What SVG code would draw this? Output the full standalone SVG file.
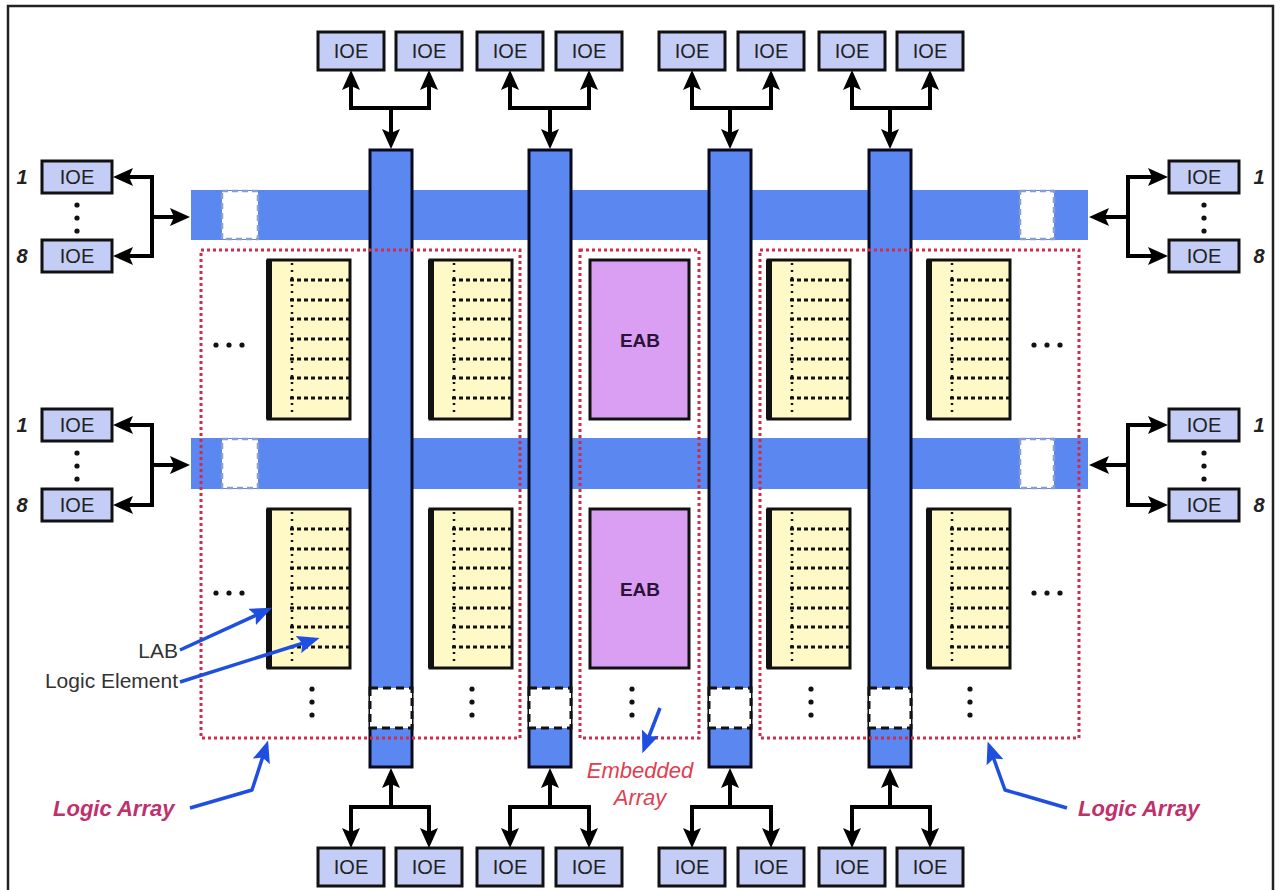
<svg xmlns="http://www.w3.org/2000/svg" width="1281" height="890" viewBox="0 0 1281 890">
<style>
.ioe rect{fill:#C3CDF6;stroke:#111;stroke-width:3}
.ioe text{font-family:"Liberation Sans",Arial,sans-serif;font-size:20px;fill:#222;text-anchor:middle}
.num{font-family:"Liberation Sans",Arial,sans-serif;font-size:20px;font-style:italic;font-weight:bold;fill:#222;text-anchor:middle}
.conn{stroke:#000;stroke-width:4;fill:none;stroke-linejoin:round}
.arr{stroke:#000;stroke-width:4;fill:none;marker-end:url(#ah)}
.bus{fill:#5B87F1}
.gap{fill:#fff;stroke:#8C9CCC;stroke-width:2.5;stroke-dasharray:6 4}
.vbar{fill:#5B87F1;stroke:#0A0A1E;stroke-width:3}
.vgap{fill:#fff;stroke:#111;stroke-width:3;stroke-dasharray:8 5}
.region{fill:none;stroke:#D42A4A;stroke-width:3;stroke-dasharray:3 3}
.labbox{fill:#FFF9C8;stroke:#111;stroke-width:3}
.labedge{stroke:#111;stroke-width:6}
.labvd{stroke:#111;stroke-width:2.5;stroke-dasharray:2 5}
.le{stroke:#111;stroke-width:3;stroke-dasharray:4 3}
.eab rect{fill:#DA9FF2;stroke:#111;stroke-width:3}
.eab text{font-family:"Liberation Sans",Arial,sans-serif;font-size:19px;font-weight:bold;fill:#2A1238;text-anchor:middle}
.dot{fill:#111}
.callout{stroke:#1E4FE0;stroke-width:3.5;fill:none;stroke-linejoin:round;marker-end:url(#bh)}
.lbl{font-family:"Liberation Sans",Arial,sans-serif;font-size:21px;fill:#333;text-anchor:end}
.la{font-family:"Liberation Sans",Arial,sans-serif;font-size:22px;font-weight:bold;font-style:italic;fill:#C0306C}
.ea{font-family:"Liberation Sans",Arial,sans-serif;font-size:22px;font-style:italic;fill:#E0404F;text-anchor:middle}
</style>
<defs>
<marker id="ah" viewBox="0 0 20 18" refX="10" refY="9" markerWidth="20" markerHeight="18" markerUnits="userSpaceOnUse" orient="auto">
<path d="M0,0 L20,9 L0,18 L4,9 z" fill="#000"/>
</marker>
<marker id="bh" viewBox="0 0 22 18" refX="12" refY="9" markerWidth="22" markerHeight="18" markerUnits="userSpaceOnUse" orient="auto">
<path d="M0,0 L22,9 L0,18 L4,9 z" fill="#1E4FE0"/>
</marker>
<g id="labcore">
<rect class="labbox" x="0" y="0" width="82" height="159"/>
<line class="labedge" x1="1" y1="0" x2="1" y2="159"/>
<line class="labvd" x1="24" y1="3" x2="24" y2="157"/>
<line class="le" x1="22" y1="20" x2="82" y2="20"/>
<line class="le" x1="22" y1="40" x2="82" y2="40"/>
<line class="le" x1="22" y1="59" x2="82" y2="59"/>
<line class="le" x1="22" y1="79" x2="82" y2="79"/>
<line class="le" x1="22" y1="99" x2="82" y2="99"/>
<line class="le" x1="22" y1="118" x2="82" y2="118"/>
<line class="le" x1="22" y1="138" x2="82" y2="138"/>
</g>
<g id="vdots" fill="#111"><circle cx="0" cy="0" r="2.6"/><circle cx="0" cy="13" r="2.6"/><circle cx="0" cy="26" r="2.6"/></g>
<g id="hdots" fill="#111"><circle cx="0" cy="0" r="2.6"/><circle cx="13" cy="0" r="2.6"/><circle cx="26" cy="0" r="2.6"/></g>
</defs>
<rect x="0" y="0" width="1281" height="890" fill="#fff"/>
<path d="M8,890 V6 H1273 V890" fill="none" stroke="#222" stroke-width="2.5"/>

<!-- horizontal buses -->
<g id="hbus1">
<rect class="bus" x="191" y="190" width="897" height="50"/>
<rect class="gap" x="222" y="191" width="36" height="48"/>
<rect class="gap" x="1020" y="191" width="34" height="48"/>
</g>
<g id="hbus2">
<rect class="bus" x="191" y="438" width="897" height="51"/>
<rect class="gap" x="222" y="439" width="36" height="49"/>
<rect class="gap" x="1020" y="439" width="34" height="49"/>
</g>

<!-- LABs -->
<g id="lab1"><use href="#labcore" x="268" y="260"/></g>
<g id="lab2"><use href="#labcore" x="430" y="260"/></g>
<g id="lab3"><use href="#labcore" x="768" y="260"/></g>
<g id="lab4"><use href="#labcore" x="928" y="260"/></g>
<g id="lab5"><use href="#labcore" x="268" y="509"/></g>
<g id="lab6"><use href="#labcore" x="430" y="509"/></g>
<g id="lab7"><use href="#labcore" x="768" y="509"/></g>
<g id="lab8"><use href="#labcore" x="928" y="509"/></g>

<g id="eab1" class="eab"><rect x="590" y="260" width="99" height="159"/><text x="640" y="347">EAB</text></g>
<g id="eab2" class="eab"><rect x="590" y="509" width="99" height="159"/><text x="640" y="596">EAB</text></g>

<!-- dots -->
<g id="dots">
<use href="#hdots" x="216" y="345"/>
<use href="#hdots" x="216" y="593"/>
<use href="#hdots" x="1034" y="345"/>
<use href="#hdots" x="1034" y="593"/>
<use href="#vdots" x="312" y="689"/>
<use href="#vdots" x="472" y="689"/>
<use href="#vdots" x="632" y="689"/>
<use href="#vdots" x="811" y="689"/>
<use href="#vdots" x="970" y="689"/>
<use href="#vdots" x="77" y="205"/>
<use href="#vdots" x="77" y="453"/>
<use href="#vdots" x="1204" y="205"/>
<use href="#vdots" x="1204" y="453"/>
</g>

<!-- vertical bars -->
<g id="vbar1"><rect class="vbar" x="370" y="150" width="42" height="617"/><rect class="vgap" x="370" y="688" width="42" height="40"/></g>
<g id="vbar2"><rect class="vbar" x="529" y="150" width="42" height="617"/><rect class="vgap" x="529" y="688" width="42" height="40"/></g>
<g id="vbar3"><rect class="vbar" x="709" y="150" width="42" height="617"/><rect class="vgap" x="709" y="688" width="42" height="40"/></g>
<g id="vbar4"><rect class="vbar" x="869" y="150" width="42" height="617"/><rect class="vgap" x="869" y="688" width="42" height="40"/></g>

<!-- regions -->
<rect id="logic-array-left" class="region" x="201" y="250" width="319" height="488"/>
<rect id="embedded-array" class="region" x="580" y="250" width="119" height="488"/>
<rect id="logic-array-right" class="region" x="760" y="250" width="319" height="488"/>

<!-- IOEs top -->
<g id="ioe-t1" class="ioe"><rect x="318" y="32" width="66" height="38"/><text x="351" y="58">IOE</text></g>
<g id="ioe-t2" class="ioe"><rect x="396" y="32" width="66" height="38"/><text x="429" y="58">IOE</text></g>
<g id="ioe-t3" class="ioe"><rect x="477" y="32" width="66" height="38"/><text x="510" y="58">IOE</text></g>
<g id="ioe-t4" class="ioe"><rect x="556" y="32" width="66" height="38"/><text x="589" y="58">IOE</text></g>
<g id="ioe-t5" class="ioe"><rect x="659" y="32" width="66" height="38"/><text x="692" y="58">IOE</text></g>
<g id="ioe-t6" class="ioe"><rect x="738" y="32" width="66" height="38"/><text x="771" y="58">IOE</text></g>
<g id="ioe-t7" class="ioe"><rect x="819" y="32" width="66" height="38"/><text x="852" y="58">IOE</text></g>
<g id="ioe-t8" class="ioe"><rect x="897" y="32" width="66" height="38"/><text x="930" y="58">IOE</text></g>
<!-- IOEs bottom -->
<g id="ioe-b1" class="ioe"><rect x="318" y="848" width="66" height="38"/><text x="351" y="874">IOE</text></g>
<g id="ioe-b2" class="ioe"><rect x="396" y="848" width="66" height="38"/><text x="429" y="874">IOE</text></g>
<g id="ioe-b3" class="ioe"><rect x="477" y="848" width="66" height="38"/><text x="510" y="874">IOE</text></g>
<g id="ioe-b4" class="ioe"><rect x="556" y="848" width="66" height="38"/><text x="589" y="874">IOE</text></g>
<g id="ioe-b5" class="ioe"><rect x="659" y="848" width="66" height="38"/><text x="692" y="874">IOE</text></g>
<g id="ioe-b6" class="ioe"><rect x="738" y="848" width="66" height="38"/><text x="771" y="874">IOE</text></g>
<g id="ioe-b7" class="ioe"><rect x="819" y="848" width="66" height="38"/><text x="852" y="874">IOE</text></g>
<g id="ioe-b8" class="ioe"><rect x="897" y="848" width="66" height="38"/><text x="930" y="874">IOE</text></g>
<!-- IOEs left -->
<g id="ioe-l1" class="ioe"><rect x="42" y="161" width="70" height="32"/><text x="77" y="184">IOE</text></g>
<g id="ioe-l2" class="ioe"><rect x="42" y="240" width="70" height="32"/><text x="77" y="263">IOE</text></g>
<g id="ioe-l3" class="ioe"><rect x="42" y="409" width="70" height="32"/><text x="77" y="432">IOE</text></g>
<g id="ioe-l4" class="ioe"><rect x="42" y="489" width="70" height="32"/><text x="77" y="512">IOE</text></g>
<!-- IOEs right -->
<g id="ioe-r1" class="ioe"><rect x="1169" y="161" width="70" height="32"/><text x="1204" y="184">IOE</text></g>
<g id="ioe-r2" class="ioe"><rect x="1169" y="240" width="70" height="32"/><text x="1204" y="263">IOE</text></g>
<g id="ioe-r3" class="ioe"><rect x="1169" y="409" width="70" height="32"/><text x="1204" y="432">IOE</text></g>
<g id="ioe-r4" class="ioe"><rect x="1169" y="489" width="70" height="32"/><text x="1204" y="512">IOE</text></g>

<g id="ioe-numbers">
<text class="num" x="22" y="184">1</text>
<text class="num" x="22" y="263">8</text>
<text class="num" x="22" y="432">1</text>
<text class="num" x="22" y="512">8</text>
<text class="num" x="1259" y="184">1</text>
<text class="num" x="1259" y="263">8</text>
<text class="num" x="1259" y="432">1</text>
<text class="num" x="1259" y="512">8</text>
</g>

<!-- connectors -->
<g id="connectors">
<path class="conn" d="M351,108 H429 M510,108 H589 M692,108 H771 M852,108 H930"/>
<path class="arr" d="M351,110 V80"/><path class="arr" d="M429,110 V80"/>
<path class="arr" d="M510,110 V80"/><path class="arr" d="M589,110 V80"/>
<path class="arr" d="M692,110 V80"/><path class="arr" d="M771,110 V80"/>
<path class="arr" d="M852,110 V80"/><path class="arr" d="M930,110 V80"/>
<path class="arr" d="M391,106 V139"/><path class="arr" d="M550,106 V139"/>
<path class="arr" d="M730,106 V139"/><path class="arr" d="M890,106 V139"/>
<path class="conn" d="M351,807 H429 M510,807 H589 M692,807 H771 M852,807 H930"/>
<path class="arr" d="M351,805 V838"/><path class="arr" d="M429,805 V838"/>
<path class="arr" d="M510,805 V838"/><path class="arr" d="M589,805 V838"/>
<path class="arr" d="M692,805 V838"/><path class="arr" d="M771,805 V838"/>
<path class="arr" d="M852,805 V838"/><path class="arr" d="M930,805 V838"/>
<path class="arr" d="M391,809 V778"/><path class="arr" d="M550,809 V778"/>
<path class="arr" d="M730,809 V778"/><path class="arr" d="M890,809 V778"/>
<path class="conn" d="M152,177 V256"/>
<path class="arr" d="M154,177 H123"/><path class="arr" d="M154,256 H123"/>
<path class="arr" d="M150,217 H180"/>
<path class="conn" d="M152,425 V505"/>
<path class="arr" d="M154,425 H123"/><path class="arr" d="M154,505 H123"/>
<path class="arr" d="M150,465 H180"/>
<path class="conn" d="M1128,177 V256"/>
<path class="arr" d="M1126,177 H1158"/><path class="arr" d="M1126,256 H1158"/>
<path class="arr" d="M1130,217 H1099"/>
<path class="conn" d="M1128,425 V505"/>
<path class="arr" d="M1126,425 H1158"/><path class="arr" d="M1126,505 H1158"/>
<path class="arr" d="M1130,465 H1099"/>
<path class="callout" d="M180,650 L263,612"/>
<path class="callout" d="M180,682 L310,641"/>
<path class="callout" d="M190,808 L252,790 L265,750"/>
<path class="callout" d="M1067,808 L1005,790 L991,751"/>
<path class="callout" d="M660,708 L646,744"/>
</g>

<!-- labels -->
<g id="labels">
<text class="lbl" x="178" y="658">LAB</text>
<text class="lbl" x="178" y="688">Logic Element</text>
<text class="la" x="53" y="816">Logic Array</text>
<text class="la" x="1078" y="816">Logic Array</text>
<text class="ea" x="640" y="778">Embedded</text>
<text class="ea" x="640" y="805">Array</text>
</g>
</svg>
